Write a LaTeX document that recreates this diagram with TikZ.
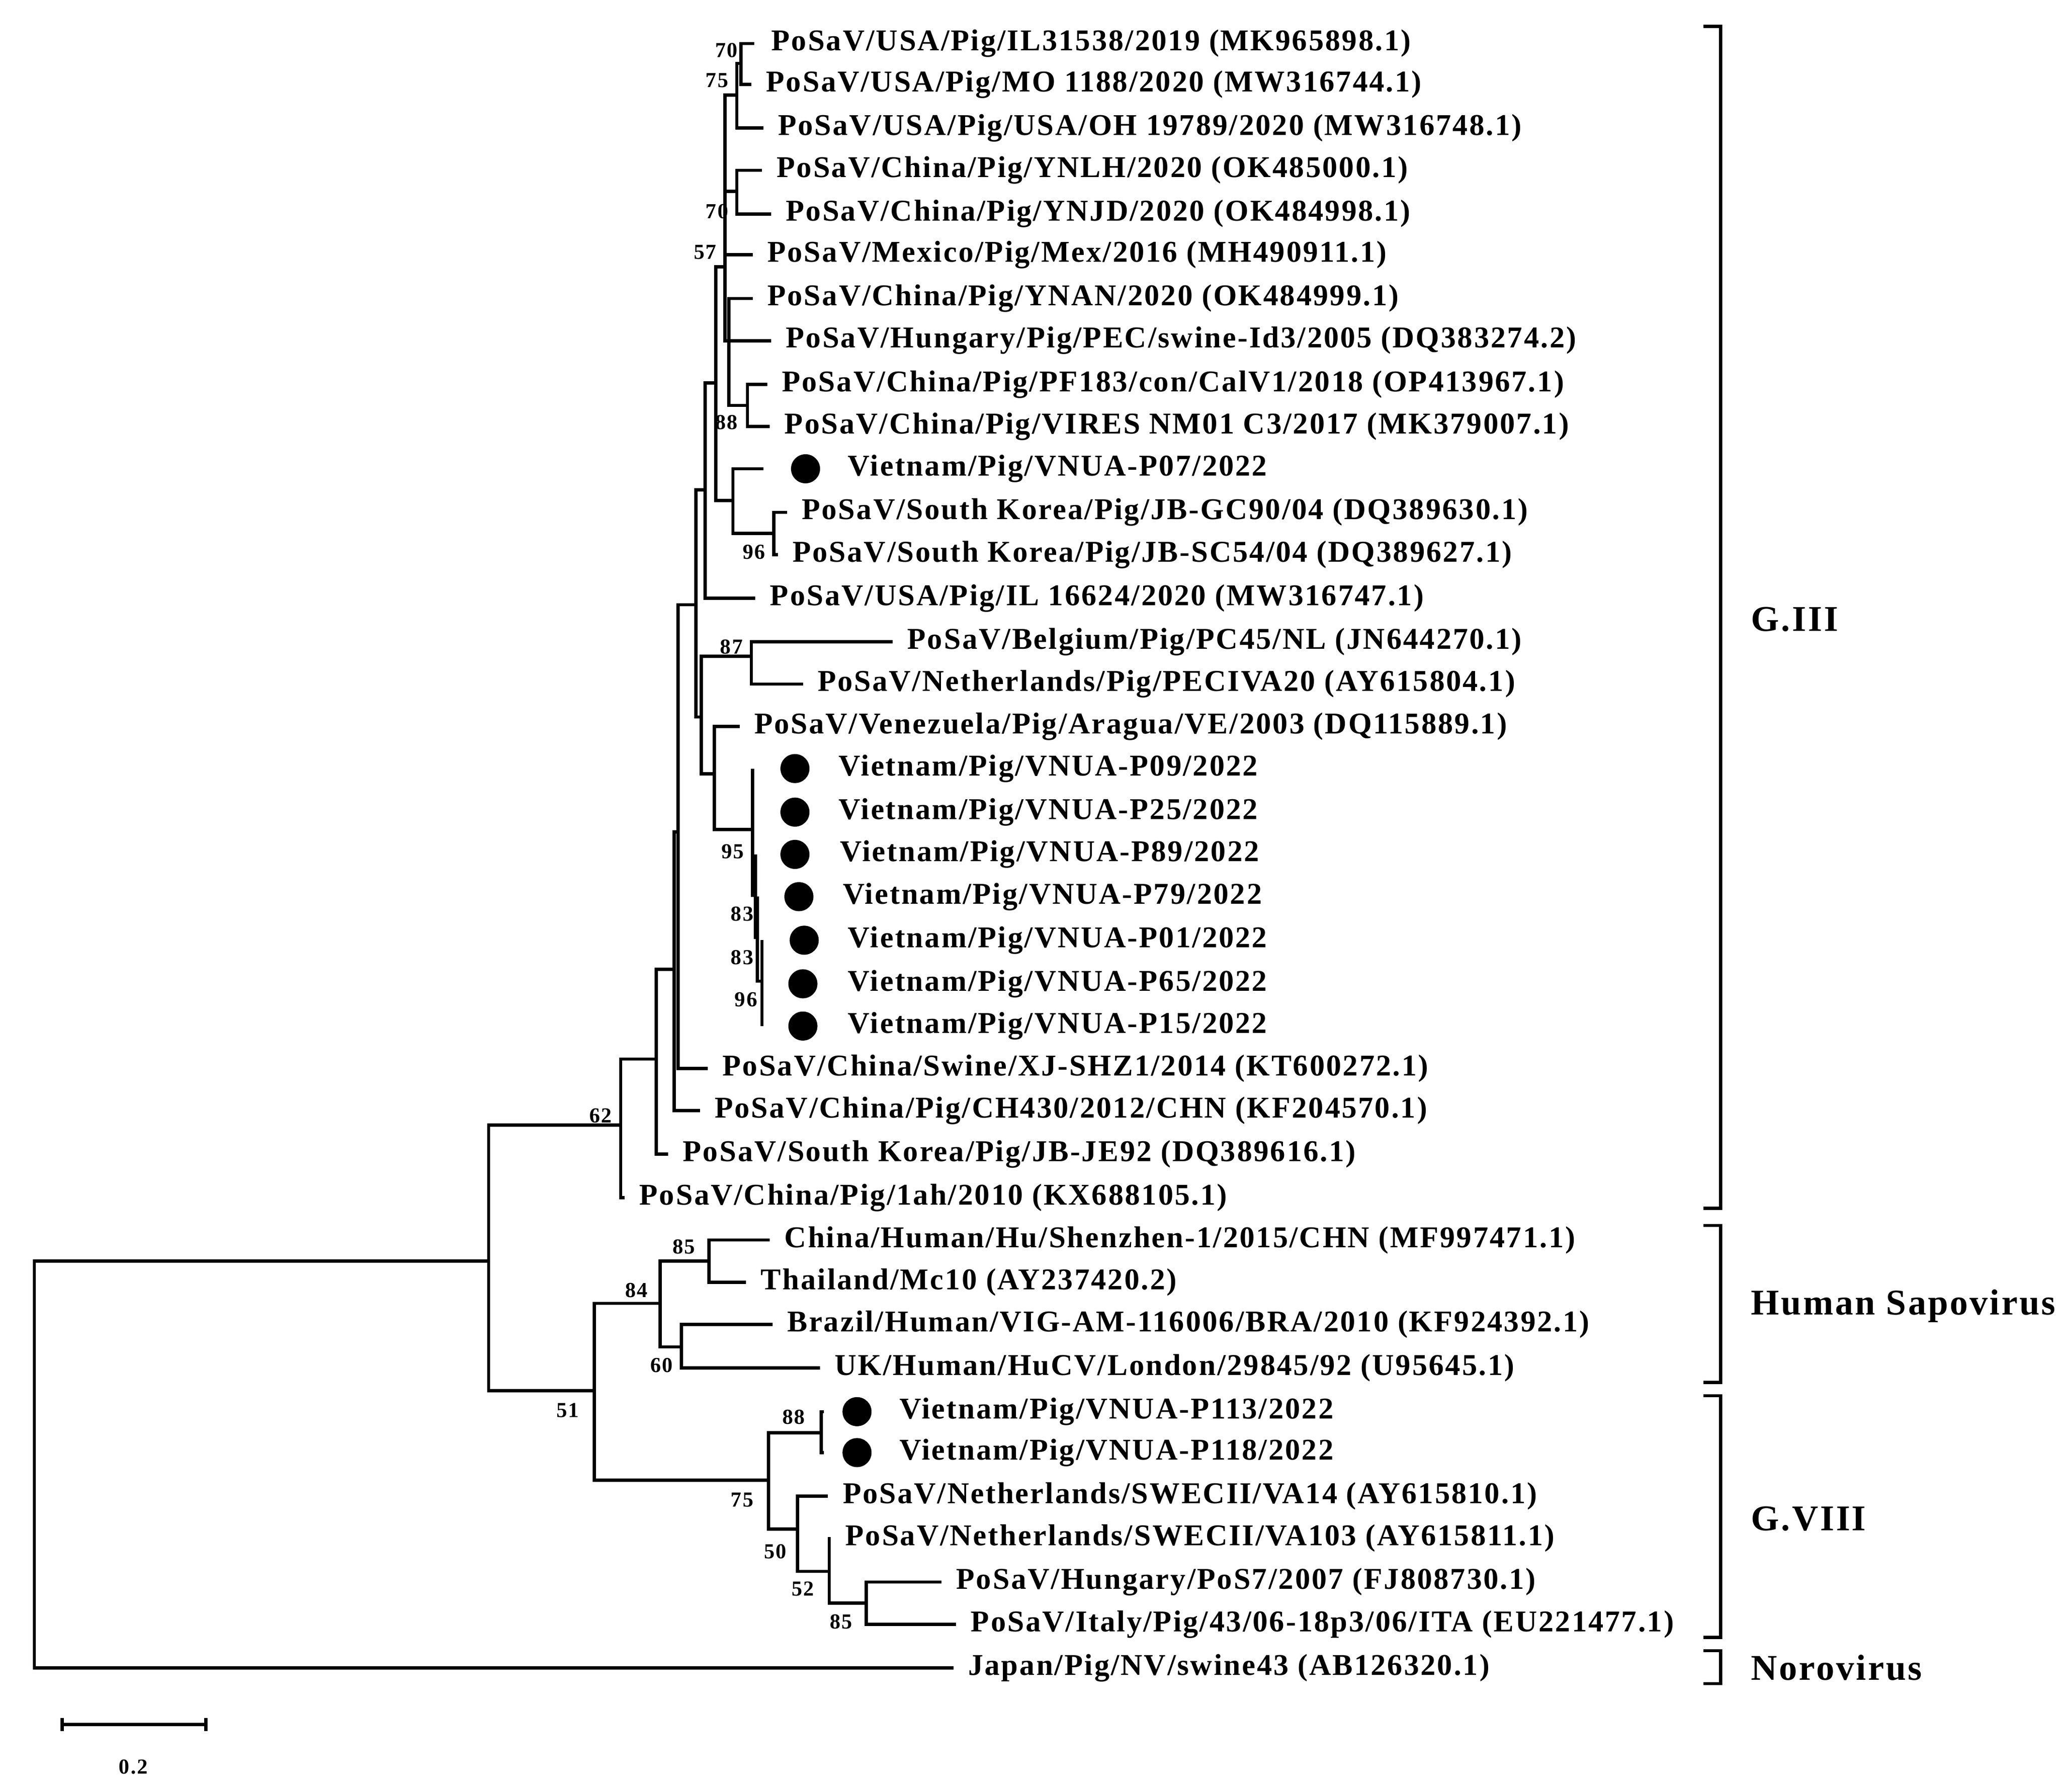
\documentclass[tikz,border=0pt]{standalone}
\usepackage{fontspec}
\setmainfont{Liberation Serif}[LetterSpace=5]
\usepackage{tikz}

\begin{document}
\begin{tikzpicture}[x=0.01cm,y=-0.01cm,
  every path/.append style={line width=0.7pt},
  taxon/.style={anchor=west,inner sep=0pt,font=\fontsize{6.5}{7}\selectfont\bfseries},
  boot/.style={inner sep=0pt,font=\fontsize{4.6}{5}\selectfont\bfseries},
  clade/.style={anchor=west,inner sep=0pt,font=\fontsize{7.8}{9}\selectfont\bfseries},
  dot/.style={circle,fill=black,minimum size=0.22cm,inner sep=0pt}]
\useasboundingbox (0,0) rectangle (1560,1357);
% leaves: number / tip x / y / text x / dot x (0 = none) / label
\foreach \i/\tx/\ty/\lx/\dx/\lab in {
  1/571/33/583/0/{PoSaV/USA/Pig/IL31538/2019 (MK965898.1)},
  2/569/64/579/0/{PoSaV/USA/Pig/MO 1188/2020 (MW316744.1)},
  3/578/97/588/0/{PoSaV/USA/Pig/USA/OH 19789/2020 (MW316748.1)},
  4/577/129/587/0/{PoSaV/China/Pig/YNLH/2020 (OK485000.1)},
  5/584/162/594/0/{PoSaV/China/Pig/YNJD/2020 (OK484998.1)},
  6/570/193/580/0/{PoSaV/Mexico/Pig/Mex/2016 (MH490911.1)},
  7/570/226/580/0/{PoSaV/China/Pig/YNAN/2020 (OK484999.1)},
  8/584/258/594/0/{PoSaV/Hungary/Pig/PEC/swine-Id3/2005 (DQ383274.2)},
  9/581/291/591/0/{PoSaV/China/Pig/PF183/con/CalV1/2018 (OP413967.1)},
  10/583/323/593/0/{PoSaV/China/Pig/VIRES NM01 C3/2017 (MK379007.1)},
  11/578/355/641/610/{Vietnam/Pig/VNUA-P07/2022},
  12/596/388/606/0/{PoSaV/South Korea/Pig/JB-GC90/04 (DQ389630.1)},
  13/589/420/599/0/{PoSaV/South Korea/Pig/JB-SC54/04 (DQ389627.1)},
  14/572/453/582/0/{PoSaV/USA/Pig/IL 16624/2020 (MW316747.1)},
  15/676/486/686/0/{PoSaV/Belgium/Pig/PC45/NL (JN644270.1)},
  16/608/518/618/0/{PoSaV/Netherlands/Pig/PECIVA20 (AY615804.1)},
  17/560/550/570/0/{PoSaV/Venezuela/Pig/Aragua/VE/2003 (DQ115889.1)},
  18/570/582/634/602/{Vietnam/Pig/VNUA-P09/2022},
  19/570/615/634/602/{Vietnam/Pig/VNUA-P25/2022},
  20/572/647/635/602/{Vietnam/Pig/VNUA-P89/2022},
  21/573.5/679/637/605/{Vietnam/Pig/VNUA-P79/2022},
  22/577/712/641/609/{Vietnam/Pig/VNUA-P01/2022},
  23/577/745/641/608/{Vietnam/Pig/VNUA-P65/2022},
  24/577/777/641/608/{Vietnam/Pig/VNUA-P15/2022},
  25/536/809/546/0/{PoSaV/China/Swine/XJ-SHZ1/2014 (KT600272.1)},
  26/530/841/540/0/{PoSaV/China/Pig/CH430/2012/CHN (KF204570.1)},
  27/506/874/516/0/{PoSaV/South Korea/Pig/JB-JE92 (DQ389616.1)},
  28/473/907/483/0/{PoSaV/China/Pig/1ah/2010 (KX688105.1)},
  29/583/939/593/0/{China/Human/Hu/Shenzhen-1/2015/CHN (MF997471.1)},
  30/565/971/575/0/{Thailand/Mc10 (AY237420.2)},
  31/585/1003/595/0/{Brazil/Human/VIG-AM-116006/BRA/2010 (KF924392.1)},
  32/621/1036/631/0/{UK/Human/HuCV/London/29845/92 (U95645.1)},
  33/624/1069/680/649/{Vietnam/Pig/VNUA-P113/2022},
  34/624/1100/680/649/{Vietnam/Pig/VNUA-P118/2022},
  35/627/1133/637/0/{PoSaV/Netherlands/SWECII/VA14 (AY615810.1)},
  36/629/1165/639/0/{PoSaV/Netherlands/SWECII/VA103 (AY615811.1)},
  37/713/1198/723/0/{PoSaV/Hungary/PoS7/2007 (FJ808730.1)},
  38/724/1230/734/0/{PoSaV/Italy/Pig/43/06-18p3/06/ITA (EU221477.1)},
  39/722/1263/732/0/{Japan/Pig/NV/swine43 (AB126320.1)}}{
  \coordinate (l\i) at (\tx,\ty);
  \node[taxon] (t\i) at (\lx,\ty) {\lab};
  \ifnum\dx>0 \node[dot] (d\i) at (\dx,\ty) {};\fi
}
% internal nodes
\coordinate (nA) at (561,48);   \coordinate (nB) at (558,72);
\coordinate (nC) at (558,145);  \coordinate (nE2) at (566,307);
\coordinate (nE) at (552,258);  \coordinate (nF) at (549,202);
\coordinate (nI) at (586,404);  \coordinate (nH) at (555,379);
\coordinate (nG) at (542,290);  \coordinate (nJ) at (534,371);
\coordinate (nM) at (569,497);  \coordinate (nS) at (577,743);
\coordinate (nR) at (573.5,710);\coordinate (nQ) at (572,678);
\coordinate (nO) at (570,628);  \coordinate (nN) at (541,586);
\coordinate (nL) at (531,543);  \coordinate (nK) at (527,458);
\coordinate (nT) at (513.5,630);\coordinate (nU) at (510.5,734);
\coordinate (nV) at (497,802);  \coordinate (nW) at (470,852);
\coordinate (nZa) at (537,955); \coordinate (nZb) at (516,1020);
\coordinate (nZ) at (500,987);  \coordinate (nAB) at (622,1085);
\coordinate (nAE) at (656,1214);\coordinate (nAD) at (628,1190);
\coordinate (nAC) at (604,1158);\coordinate (nAA) at (582,1121);
\coordinate (nY) at (450,1053); \coordinate (nX) at (370,955);
\coordinate (root) at (26,1108);
% branches
\foreach \p/\c in {nA/l1,nA/l2,nB/nA,nB/l3,nC/l4,nC/l5,nE2/l9,nE2/l10,
  nE/l7,nE/l8,nE/nE2,nF/nB,nF/nC,nF/l6,nF/nE,nI/l12,nI/l13,nH/l11,nH/nI,
  nG/nF,nG/nH,nJ/nG,nJ/l14,nM/l15,nM/l16,nS/l22,nS/l23,nS/l24,nR/l21,nR/nS,
  nQ/l20,nQ/nR,nO/l18,nO/l19,nO/nQ,nN/l17,nN/nO,nL/nM,nL/nN,nK/nJ,nK/nL,
  nT/nK,nT/l25,nU/nT,nU/l26,nV/nU,nV/l27,nW/nV,nW/l28,
  nZa/l29,nZa/l30,nZb/l31,nZb/l32,nZ/nZa,nZ/nZb,nAB/l33,nAB/l34,
  nAE/l37,nAE/l38,nAD/l36,nAD/nAE,nAC/l35,nAC/nAD,nAA/nAB,nAA/nAC,
  nY/nZ,nY/nAA,nX/nW,nX/nY,root/nX,root/l39}
  \draw (\p) |- (\c);
% bootstrap values
\foreach \bx/\by/\bv in {550/38/70,543/61/75,543/160/70,534/191/57,550/320/88,
  571/418/96,554/490/87,555/645/95,562/692/83,562/725/83,565/757/96,455/845/62,
  518/944/85,482/977/84,501/1034/60,430/1068/51,601/1073/88,562/1136/75,
  587/1175/50,608/1203/52,637/1228/85}
  \node[boot] at (\bx,\by) {\bv};
% clade brackets
\foreach \n/\ya/\yb/\ym/\lab in {g3/20/915/469/G.III,hu/928/1047/989/Human Sapovirus,
  g8/1057/1240/1150/G.VIII,nv/1250/1275/1263/Norovirus}{
  \draw (1290,\ya) -| (1303,\yb) -- (1290,\yb);
  \node[clade] (c\n) at (1325,\ym) {\lab};
}
% scale bar
\coordinate (sa) at (47,1306); \coordinate (sb) at (156,1306);
\draw ([yshift=0.05cm]sa) -- ([yshift=-0.05cm]sa) (sa) -- (sb)
  ([yshift=0.05cm]sb) -- ([yshift=-0.05cm]sb);
\node[boot] (sl) at (101,1338) {0.2};
\end{tikzpicture}
\end{document}
